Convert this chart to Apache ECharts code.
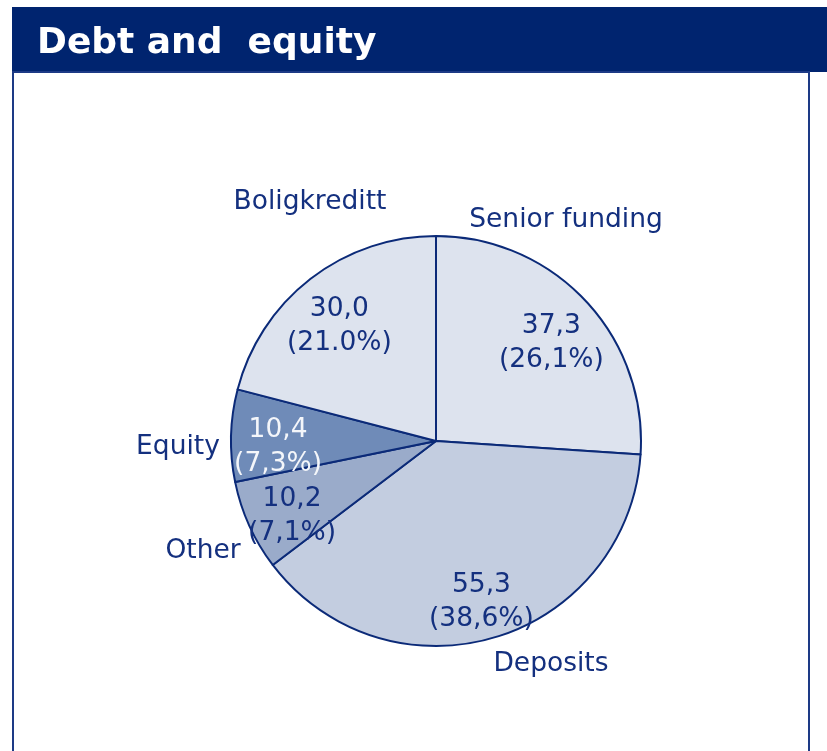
<!DOCTYPE html>
<html><head><meta charset="utf-8">
<script src="https://cdn.jsdelivr.net/npm/echarts@6/dist/echarts.min.js"></script>
<style>html,body{margin:0;padding:0;background:#fff}#c{width:827px;height:751px}</style>
</head><body><div id="c"></div>
<script>
const title = 'Debt and  equity';
const categories = ['Senior funding', 'Deposits', 'Other', 'Equity', 'Boligkreditt'];
const values = [37.3, 55.3, 10.2, 10.4, 30.0];
const valueLabels = ['37,3', '55,3', '10,2', '10,4', '30,0'];
const percentLabels = ['26,1%', '38,6%', '7,1%', '7,3%', '21.0%'];

const NAVY = '#0b2a78';
const TEXT = '#14307f';
const fills = ['#dde3ee', '#c3cde0', '#9aabca', '#6f8bb8', '#dde3ee'];
const innerTextColors = [TEXT, TEXT, TEXT, '#f4f6fa', TEXT];
const namePos = [[566, 220], [551, 664], [203, 551], [178, 447], [310, 202]];
const FONT = 'DejaVu Sans';

const chart = echarts.init(document.getElementById('c'), null, {renderer: 'canvas'});

const mainData = categories.map((n, i) => ({
  name: n, value: values[i],
  itemStyle: {color: fills[i]}
}));
const labelData = categories.map((n, i) => ({
  name: n, value: values[i],
  label: {
    color: innerTextColors[i],
    formatter: valueLabels[i] + '\n(' + percentLabels[i] + ')'
  }
}));

chart.setOption({
  animation: false,
  title: {
    text: title, left: 32, top: 21,
    textStyle: {color: '#fff', fontSize: 36, fontWeight: 'bold', fontFamily: FONT}
  },
  graphic: [
    {type: 'rect', z: -10, shape: {x: 12, y: 7, width: 815, height: 65}, style: {fill: '#00246f'}},
    {type: 'rect', z: -10, shape: {x: 13, y: 72, width: 796, height: 700}, style: {fill: '#fff', stroke: '#1d3a86', lineWidth: 2}}
  ],
  series: [
    {
      type: 'pie', center: [436, 441], radius: 205, startAngle: 90, clockwise: true,
      data: mainData,
      itemStyle: {borderColor: NAVY, borderWidth: 2},
      label: {show: true, position: 'outside', formatter: '{b}', color: TEXT, fontSize: 26.5, fontFamily: FONT,
        overflow: 'none', width: 400},
      labelLine: {show: false},
      labelLayout: function (p) {
        const xy = namePos[p.dataIndex];
        return {x: xy[0], y: xy[1], align: 'center', verticalAlign: 'middle'};
      },
      emphasis: {disabled: true}
    },
    {
      type: 'pie', center: [436, 441], radius: [105, 205], startAngle: 90, clockwise: true,
      data: labelData,
      itemStyle: {color: 'rgba(0,0,0,0)', borderWidth: 0},
      label: {show: true, position: 'inside', fontSize: 26.5, lineHeight: 34, fontFamily: FONT},
      labelLine: {show: false},
      labelLayout: {dy: 10},
      emphasis: {disabled: true},
      silent: true
    }
  ]
});
</script></body></html>
